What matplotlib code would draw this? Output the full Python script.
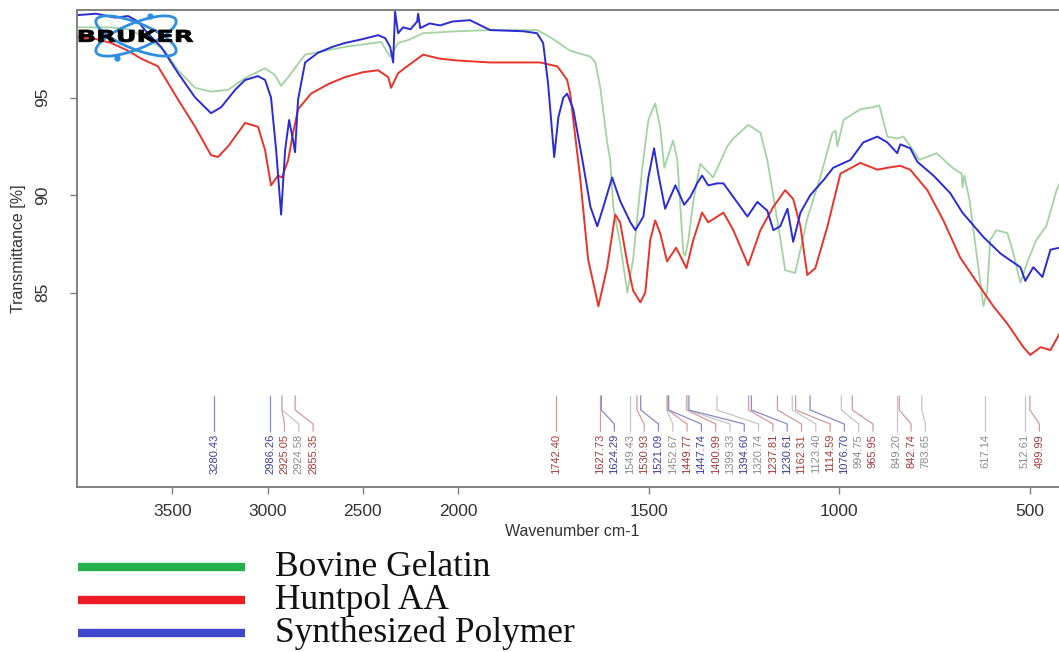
import matplotlib.pyplot as plt
import numpy as np
from matplotlib.patches import Ellipse, PathPatch
from matplotlib.textpath import TextPath
from matplotlib.font_manager import FontProperties
from matplotlib.transforms import Affine2D

# --- spectra (wavenumber cm-1, transmittance %) ---
wn_gel = [3994, 3821, 3732, 3643, 3538, 3470, 3380, 3297, 3207, 3118, 3013, 2961, 2929, 2892,
          2803, 2593, 2404, 2357, 2315, 2262, 2184, 2005, 1916, 1793, 1759, 1706, 1653, 1640,
          1627, 1609, 1601, 1593, 1575, 1556, 1541, 1517, 1501, 1483, 1470, 1459, 1436, 1425,
          1409, 1404, 1396, 1383, 1365, 1331, 1294, 1278, 1239, 1207, 1189, 1160, 1142, 1116,
          1102, 1084, 1050, 1018, 1010, 1005, 989, 945, 913, 895, 874, 848, 832, 806, 790, 745,
          703, 679, 677, 672, 658, 640, 622, 612, 604, 588, 559, 543, 525, 504, 483, 457, 430, 422]
t_gel = [98.6, 98.6, 98.5, 98.1, 97.4, 96.4, 95.5, 95.3, 95.4, 96.0, 96.5, 96.15, 95.6, 96.05,
         97.2, 97.6, 97.85, 97.1, 97.8, 97.95, 98.3, 98.4, 98.46, 98.46, 98.1, 97.4, 97.1, 96.8,
         95.5, 92.7, 91.8, 89.4, 87.5, 85.0, 86.7, 91.4, 93.85, 94.7, 93.5, 91.4, 92.8, 91.8,
         87.0, 86.9, 87.7, 89.7, 91.6, 90.9, 92.5, 92.9, 93.6, 93.2, 91.8, 88.4, 86.15, 86.0,
         87.2, 88.8, 90.9, 93.2, 93.3, 92.5, 93.85, 94.4, 94.5, 94.6, 93.0, 92.9, 93.0, 92.3, 91.8, 92.15,
         91.4, 91.1, 90.4, 91.0, 89.7, 87.0, 84.3, 85.1, 87.7, 88.2, 88.05, 87.0, 85.5, 86.7, 87.7, 88.4, 90.25, 90.6]

wn_hunt = [3994, 3900, 3821, 3732, 3664, 3575, 3470, 3380, 3297, 3260, 3207, 3155, 3118, 3050,
           3013, 2982, 2945, 2924, 2892, 2866, 2840, 2772, 2680, 2593, 2500, 2420, 2367, 2352,
           2315, 2268, 2184, 2100, 2005, 1916, 1785, 1740, 1732, 1714, 1706, 1680, 1659, 1632,
           1609, 1588, 1575, 1556, 1541, 1522, 1509, 1496, 1483, 1470, 1452, 1428, 1401, 1383,
           1360, 1344, 1304, 1278, 1252, 1239, 1207, 1173, 1142, 1121, 1102, 1084, 1063, 1031,
           997, 945, 900, 874, 840, 814, 769, 727, 683, 638, 596, 559, 517, 499, 472, 446, 422]
t_hunt = [98.1, 98.0, 97.8, 97.4, 97.0, 96.6, 94.9, 93.5, 92.05, 91.95, 92.5, 93.2, 93.7, 93.5,
          92.3, 90.5, 91.0, 90.9, 91.8, 93.2, 94.4, 95.2, 95.7, 96.05, 96.3, 96.4, 96.05, 95.5,
          96.25, 96.6, 97.2, 97.0, 96.9, 96.8, 96.8, 96.6, 96.4, 95.9, 95.2, 90.9, 86.7, 84.3,
          86.3, 89.0, 88.6, 86.5, 85.1, 84.5, 85.0, 87.7, 88.7, 88.05, 86.6, 87.3, 86.25, 87.7,
          89.1, 88.6, 89.1, 88.2, 87.0, 86.4, 88.2, 89.4, 90.25, 89.8, 88.4, 85.9, 86.25, 88.4,
          91.1, 91.65, 91.3, 91.4, 91.5, 91.3, 90.25, 88.7, 86.8, 85.5, 84.3, 83.4, 82.2, 81.8, 82.2, 82.05, 82.9]

wn_poly = [3994, 3900, 3800, 3732, 3680, 3643, 3600, 3559, 3470, 3380, 3297, 3244, 3170, 3118,
           3050, 3013, 2982, 2955, 2929, 2908, 2887, 2866, 2856, 2840, 2803, 2735, 2660, 2593,
           2500, 2420, 2383, 2357, 2341, 2331, 2315, 2289, 2250, 2215, 2210, 2199, 2150, 2094,
           2030, 1969, 1916, 1829, 1793, 1777, 1764, 1748, 1737, 1724, 1714, 1698, 1674, 1653,
           1635, 1619, 1596, 1575, 1548, 1535, 1514, 1501, 1486, 1475, 1457, 1430, 1407, 1391,
           1373, 1360, 1344, 1320, 1304, 1278, 1241, 1215, 1189, 1173, 1155, 1136, 1121, 1102,
           1076, 1040, 1016, 971, 937, 900, 874, 848, 840, 814, 795, 753, 709, 677, 622, 577,
           525, 512, 491, 467, 446, 422]
t_poly = [99.23, 99.3, 99.1, 99.18, 98.9, 98.46, 98.0, 97.6, 96.26, 95.0, 94.2, 94.5, 95.4, 95.9,
          96.1, 95.9, 95.0, 92.3, 89.0, 92.3, 93.85, 92.8, 92.2, 94.9, 96.8, 97.3, 97.6, 97.8,
          98.0, 98.2, 98.05, 97.6, 96.8, 99.4, 98.3, 98.6, 98.5, 98.9, 99.3, 98.56, 98.8, 98.7,
          98.9, 98.97, 98.46, 98.4, 98.3, 97.8, 95.7, 91.95, 94.0, 95.0, 95.2, 94.4, 91.8, 89.4,
          88.4, 89.4, 90.9, 89.7, 88.6, 88.2, 88.9, 90.9, 92.4, 91.1, 89.3, 90.5, 89.5, 89.9,
          90.6, 91.0, 90.5, 90.6, 90.6, 89.9, 88.9, 89.65, 89.2, 88.2, 88.4, 89.3, 87.6, 89.1,
          90.0, 90.8, 91.4, 91.8, 92.7, 93.0, 92.7, 92.15, 92.6, 92.4, 91.7, 91.0, 90.1, 89.1, 87.85, 87.0,
          86.3, 85.6, 86.3, 85.8, 87.2, 87.3]

# --- peak picks: wavenumber and which spectrum ('p' polymer, 'h' huntpol, 'g' gelatin) ---
peak_wn = [3280.43, 2986.26, 2925.05, 2924.58, 2855.35, 1742.40, 1627.73, 1624.29, 1549.43,
           1530.93, 1521.09, 1452.67, 1449.77, 1447.74, 1400.99, 1399.33, 1394.60, 1320.74,
           1237.81, 1230.61, 1162.31, 1123.40, 1114.59, 1076.70, 994.75, 965.95, 849.20,
           842.74, 783.65, 617.14, 512.61, 499.99]
peak_src = ['p', 'p', 'h', 'g', 'h', 'h', 'h', 'p', 'g', 'h', 'p', 'g', 'h', 'p', 'h', 'g', 'p',
            'g', 'h', 'p', 'h', 'g', 'h', 'p', 'g', 'h', 'g', 'h', 'g', 'g', 'g', 'h']

legend_names = ['Bovine Gelatin', 'Huntpol AA', 'Synthesized Polymer']
xticks = [3500, 3000, 2500, 2000, 1500, 1000, 500]
yticks = [85, 90, 95]

W, H = 1059, 652
fig = plt.figure(figsize=(W / 100, H / 100), dpi=100)
ax = fig.add_axes([77 / W, 1 - 487 / H, (1068 - 77) / W, (487 - 10) / H])


def fwd(w):
    w = np.asarray(w, float)
    return np.where(w > 2000, 2000 + (w - 2000) / 2, w)


def inv(p):
    p = np.asarray(p, float)
    return np.where(p > 2000, 2000 + (p - 2000) * 2, p)


ax.set_xscale('function', functions=(fwd, inv))
ax.plot(wn_gel, t_gel, color='#a3d3a3', lw=1.3)
ax.plot(wn_hunt, t_hunt, color='#e8332b', lw=1.4)
ax.plot(wn_poly, t_poly, color='#2b2bd6', lw=1.4)
ax.set_xlim(4000, 400)
ax.set_ylim(75.03, 99.49)
ax.set_xticks(xticks)
ax.set_yticks(yticks)

sans = 'Liberation Sans'
for s in ax.spines.values():
    s.set_color('#808080')
    s.set_linewidth(1.4)
ax.tick_params(length=5, width=1, color='#808080', labelcolor='#333333', labelsize=12.5)
ax.tick_params(axis='x', pad=7)
ax.tick_params(axis='y', labelrotation=90, pad=14)
for t in ax.get_xticklabels() + ax.get_yticklabels():
    t.set_family(sans)
for t in ax.get_yticklabels():
    t.set_va('center')
ax.set_xlabel('Wavenumber cm-1', family=sans, fontsize=11.5, color='#333333', labelpad=4)
ax.set_ylabel('Transmittance [%]', family=sans, fontsize=11.5, color='#333333', labelpad=7)

# overlay in image pixel coordinates
ov = fig.add_axes([0, 0, 1, 1])
ov.set_xlim(0, W)
ov.set_ylim(H, 0)
ov.axis('off')
ov.patch.set_alpha(0)

# peak annotations
colors_txt = {'p': '#3c3c9c', 'h': '#a83a3a', 'g': '#8c8c8c'}
colors_ln = {'p': '#8a8ac8', 'h': '#d49a9a', 'g': '#c4c4c4'}
px = ax.transData.transform(np.column_stack([peak_wn, np.full(len(peak_wn), 80.0)]))[:, 0]
lx = np.empty_like(px)
prev = -1e9
for i in np.argsort(px):
    lx[i] = max(px[i], prev + 14.3)
    prev = lx[i]
for w, src, a, b in zip(peak_wn, peak_src, px, lx):
    ov.plot([a, a, b, b], [396, 410, 424, 431], color=colors_ln[src], lw=0.9)
    ov.text(b, 434, f'{w:.2f}', rotation=90, ha='center', va='top', fontsize=8,
            family=sans, color=colors_txt[src])

# Bruker logo
for ang in (22, -22):
    ov.add_patch(Ellipse((136, 36), 86, 26, angle=ang, fill=False, ec='#2d8ee0', lw=2))
ov.plot([117, 150], [58, 16], 'o', color='#2d8ee0', ms=3.5, ls='none')
tp = TextPath((0, 0), 'BRUKER', size=1, prop=FontProperties(family='DejaVu Sans', weight='bold'))
ext = tp.get_extents()
tr = Affine2D().translate(-ext.x0, -ext.y0).scale(114 / ext.width, -12 / ext.height).translate(79, 42)
ov.add_patch(PathPatch(tr.transform_path(tp), fc='black', ec='black', lw=0.6))

# legend
leg_colors = ['#22b14c', '#ed1c24', '#3f48cc']
for k, (name, c) in enumerate(zip(legend_names, leg_colors)):
    y = 567 + 33 * k
    ov.plot([78, 245], [y, y], color=c, lw=6, solid_capstyle='butt')
    ov.text(275, y + 9, name, fontsize=25.5, family='Liberation Serif', va='baseline', color='#111111')

fig.savefig('out.png', dpi=100)
